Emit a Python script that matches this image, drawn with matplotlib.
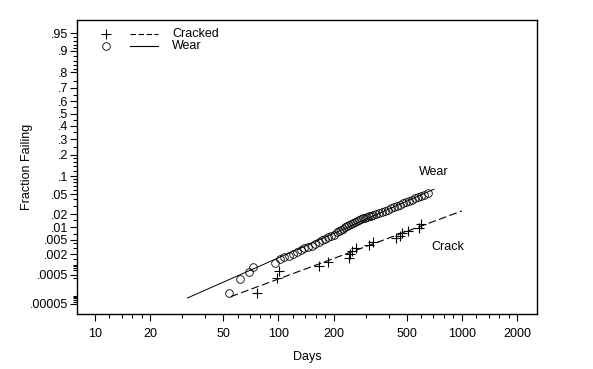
import numpy as np
import matplotlib
matplotlib.use("Agg")
import matplotlib.pyplot as plt
from matplotlib.ticker import NullFormatter
from statistics import NormalDist

plt.rcParams['font.family'] = ['Liberation Sans', 'DejaVu Sans']

# wear failures (open circles): days, fraction failing
wear_days = [53.6, 61.6, 69.0, 72.6, 95.7, 102, 107, 114, 120, 126,
             133, 138, 145, 152, 158, 166, 173, 180, 186, 194,
             201, 209, 214, 220, 225, 231, 237, 243, 249, 255,
             262, 269, 275, 282, 290, 297, 305, 312, 320, 328,
             341, 354, 368, 382, 397, 412, 428, 444, 461, 479,
             497, 517, 536, 557, 579, 601, 624, 656]
wear_frac = [1.20e-4, 3.6e-4, 6.0e-4, 8.6e-4, 1.13e-3, 1.48e-3, 1.69e-3, 1.80e-3, 2.05e-3, 2.33e-3,
             2.65e-3, 3.0e-3, 3.2e-3, 3.4e-3, 3.85e-3, 4.35e-3, 4.9e-3, 5.2e-3, 5.8e-3, 6.2e-3,
             6.5e-3, 7.8e-3, 8.2e-3, 8.7e-3, 9.2e-3, 1.02e-2, 1.08e-2, 1.14e-2, 1.20e-2, 1.27e-2,
             1.33e-2, 1.40e-2, 1.48e-2, 1.56e-2, 1.60e-2, 1.64e-2, 1.73e-2, 1.77e-2, 1.81e-2, 1.91e-2,
             2.0e-2, 2.11e-2, 2.21e-2, 2.32e-2, 2.49e-2, 2.68e-2, 2.81e-2, 2.94e-2, 3.08e-2, 3.30e-2,
             3.54e-2, 3.70e-2, 3.86e-2, 4.13e-2, 4.41e-2, 4.60e-2, 4.80e-2, 5.22e-2]

# cracked failures (plus signs)
crack_days = [76.9, 98.1, 100.3, 167, 186, 244, 246, 251, 265, 313,
              327, 439, 463, 471, 508, 581, 601]
crack_frac = [1.26e-4, 3.8e-4, 6.6e-4, 9.2e-4, 1.23e-3, 1.55e-3, 2.05e-3, 2.54e-3, 2.95e-3, 3.6e-3,
              4.4e-3, 5.4e-3, 6.2e-3, 7.2e-3, 8.3e-3, 9.8e-3, 1.20e-2]

# fitted lines (end points)
wear_fit_days = [32, 705]
wear_fit_frac = [8.2e-5, 0.061]
crack_fit_days = [55, 1000]
crack_fit_frac = [9.1e-5, 0.0232]

ytick_vals = [.95, .9, .8, .7, .6, .5, .4, .3, .2, .1, .05, .02, .01, .005, .002, .0005, .00005]
ytick_labels = ['.95', '.9', '.8', '.7', '.6', '.5', '.4', '.3', '.2', '.1', '.05', '.02', '.01',
                '.005', '.002', '.0005', '.00005']
ytick_minor = [.94, .93, .92, .91, .88, .86, .84, .82, .75, .65, .55, .45, .35, .25,
               .18, .16, .14, .12, .09, .08, .07, .06, .04, .03, .015, .007, .004, .003,
               .0015, .001, .0009, .0008, .0007, .0004, .0001, .00009, .00008, .00007, .00006]
xtick_vals = [10, 20, 50, 100, 200, 500, 1000, 2000]
xtick_minor = [12, 14, 16, 18, 30, 40, 60, 70, 80, 90, 120, 140, 160, 180, 300, 400,
               600, 700, 800, 900, 1200, 1400, 1600, 1800]

nd = NormalDist()


def _fwd(p):
    if not np.isfinite(p):
        return np.nan
    p = min(max(p, 1e-15), 1 - 1e-15)
    return nd.inv_cdf(p)


def _inv(z):
    if not np.isfinite(z):
        return np.nan
    return nd.cdf(z)


probit = np.vectorize(_fwd, otypes=[float])
phi = np.vectorize(_inv, otypes=[float])

fig = plt.figure(figsize=(5.93, 3.69), dpi=100)
ax = fig.add_axes([0.1298, 0.1491, 0.7758, 0.7967])

ax.set_xscale('log')
ax.set_yscale('function', functions=(probit, phi))

ax.plot(wear_fit_days, wear_fit_frac, color='black', lw=0.7)
ax.plot(crack_fit_days, crack_fit_frac, color='black', lw=0.8, dashes=(7, 3))
ax.plot(wear_days, wear_frac, 'o', mfc='none', mec='black', ms=5.5, mew=0.6, ls='none')
ax.plot(crack_days, crack_frac, '+', color='black', ms=6.5, mew=0.8, ls='none')

ax.text(707, 0.116, 'Wear', fontsize=9, ha='center', va='center')
ax.text(834, 0.0032, 'Crack', fontsize=9, ha='center', va='center')

ax.set_xlim(8, 2570)
ax.set_ylim(2.1e-5, 0.972)

ax.set_xticks(xtick_vals)
ax.set_xticklabels([str(v) for v in xtick_vals])
ax.set_xticks(xtick_minor, minor=True)
ax.xaxis.set_minor_formatter(NullFormatter())
ax.set_yticks(ytick_vals)
ax.set_yticklabels(ytick_labels)
ax.set_yticks(ytick_minor, minor=True)
ax.yaxis.set_minor_formatter(NullFormatter())

ax.tick_params(which='major', direction='out', length=5, width=0.8, labelsize=9)
ax.tick_params(which='minor', direction='out', length=3, width=0.8)
ax.tick_params(axis='x', which='major', pad=5)
ax.tick_params(axis='y', which='major', pad=1.5)
for s in ax.spines.values():
    s.set_linewidth(1.0)

ax.set_xlabel('Days', fontsize=9)
ax.set_ylabel('Fraction Failing', fontsize=9)
ax.xaxis.set_label_coords(0.5, -0.126)
ax.yaxis.set_label_coords(-0.0957, 0.5)

# legend drawn by hand, like the original
tr = ax.transAxes
ax.plot([0.063], [0.952], '+', color='black', ms=6.5, mew=0.8, transform=tr, clip_on=False)
ax.plot([0.115, 0.176], [0.952, 0.952], color='black', lw=0.8, dashes=(5, 2.2), transform=tr)
ax.text(0.2065, 0.952, 'Cracked', fontsize=9, va='center', ha='left', transform=tr)
ax.plot([0.063], [0.912], 'o', mfc='none', mec='black', ms=5.5, mew=0.6, transform=tr, clip_on=False)
ax.plot([0.115, 0.176], [0.912, 0.912], color='black', lw=0.8, transform=tr)
ax.text(0.2065, 0.912, 'Wear', fontsize=9, va='center', ha='left', transform=tr)

fig.savefig('out.png', dpi=100)
